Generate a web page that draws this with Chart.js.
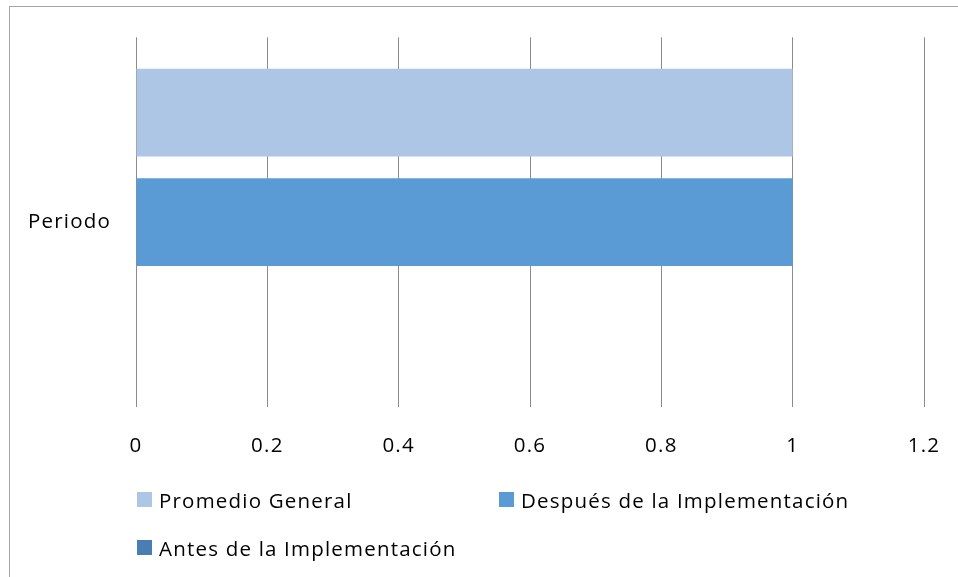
<!DOCTYPE html>
<html>
<head>
<meta charset="utf-8">
<script src="https://cdn.jsdelivr.net/npm/chart.js@4.4.1/dist/chart.umd.min.js"></script>
<style>
  html, body { margin: 0; padding: 0; background: #fff; }
  #wrap { position: relative; width: 958px; height: 577px; overflow: hidden; font-family: "Open Sans", sans-serif; }
  #frame { position: absolute; left: 9px; top: 6px; width: 1000px; height: 1000px; border: 1.5px solid #a6a6a6; box-sizing: border-box; }
  canvas { position: absolute; left: 0; top: 0; }
  .leg { position: absolute; font-size: 20.5px; letter-spacing: 1.2px; color: #000; white-space: nowrap; line-height: 20px; }
  .leg i { position: absolute; left: 0; top: 0; width: 15px; height: 15px; }
  .leg span { position: absolute; left: 22px; top: -2px; }
</style>
</head>
<body>
<div id="wrap">
  <div id="frame"></div>
  <canvas id="chart" width="958" height="577"></canvas>
  <div id="legend"></div>
</div>
<script>
// datos del grafico
const categories = ['Periodo'];
const seriesNames = ['Promedio General', 'Después de la Implementación', 'Antes de la Implementación'];
const promedioGeneral = [1];
const despues = [1];
const antes = [0];
const xTickValues = [0, 0.2, 0.4, 0.6, 0.8, 1, 1.2];
const xTickLabels = ['0', '0.2', '0.4', '0.6', '0.8', '1', '1.2'];

const colors = ['#adc6e6', '#5a9bd6', '#4a7eb2'];
const seriesData = [promedioGeneral, despues, antes];
const font = { family: '"Open Sans", sans-serif', size: 20.5 };

// el texto del original es mas ancho, se abre un poco el espaciado
const spacing = {
  id: 'spacing',
  beforeUpdate: (c) => { c.ctx.letterSpacing = '1.2px'; },
  beforeDraw: (c) => { c.ctx.letterSpacing = '1.2px'; }
};

const ctx = document.getElementById('chart').getContext('2d');
const chart = new Chart(ctx, {
  type: 'bar',
  data: {
    labels: categories,
    datasets: seriesNames.map((name, i) => ({
      label: name,
      data: seriesData[i],
      backgroundColor: colors[i],
      borderWidth: 0,
      categoryPercentage: 0.889,
      barPercentage: 0.8
    }))
  },
  options: {
    indexAxis: 'y',
    responsive: false,
    animation: false,
    layout: { padding: { left: 0, top: 36, right: 34, bottom: 0 } },
    plugins: { legend: { display: false }, tooltip: { enabled: false } },
    scales: {
      x: {
        min: 0,
        max: 1.2,
        afterBuildTicks: (scale) => { scale.ticks = xTickValues.map(v => ({ value: v })); },
        afterFit: (scale) => {
          scale.height = 170;
          scale.paddingLeft = 0;
          scale.paddingRight = 0;
        },
        grid: { color: '#8c8c8c', lineWidth: 1, drawTicks: false },
        border: { display: false },
        ticks: {
          padding: 27,
          color: '#000',
          font: font,
          maxRotation: 0,
          callback: (v) => xTickLabels[xTickValues.indexOf(v)] ?? v
        }
      },
      y: {
        afterFit: (scale) => { scale.width = 136; },
        grid: { display: false, drawTicks: false },
        border: { display: false },
        ticks: { padding: 25, color: '#000', font: font }
      }
    }
  },
  plugins: [spacing]
});

// leyenda en dos columnas como en Excel
const legendPos = [[137, 492], [499, 492], [137, 540]];
const legend = document.getElementById('legend');
chart.data.datasets.forEach((ds, i) => {
  const el = document.createElement('div');
  el.className = 'leg';
  el.style.left = legendPos[i][0] + 'px';
  el.style.top = legendPos[i][1] + 'px';
  el.innerHTML = `<i style="background:${ds.backgroundColor}"></i><span>${ds.label}</span>`;
  legend.appendChild(el);
});
</script>
</body>
</html>
